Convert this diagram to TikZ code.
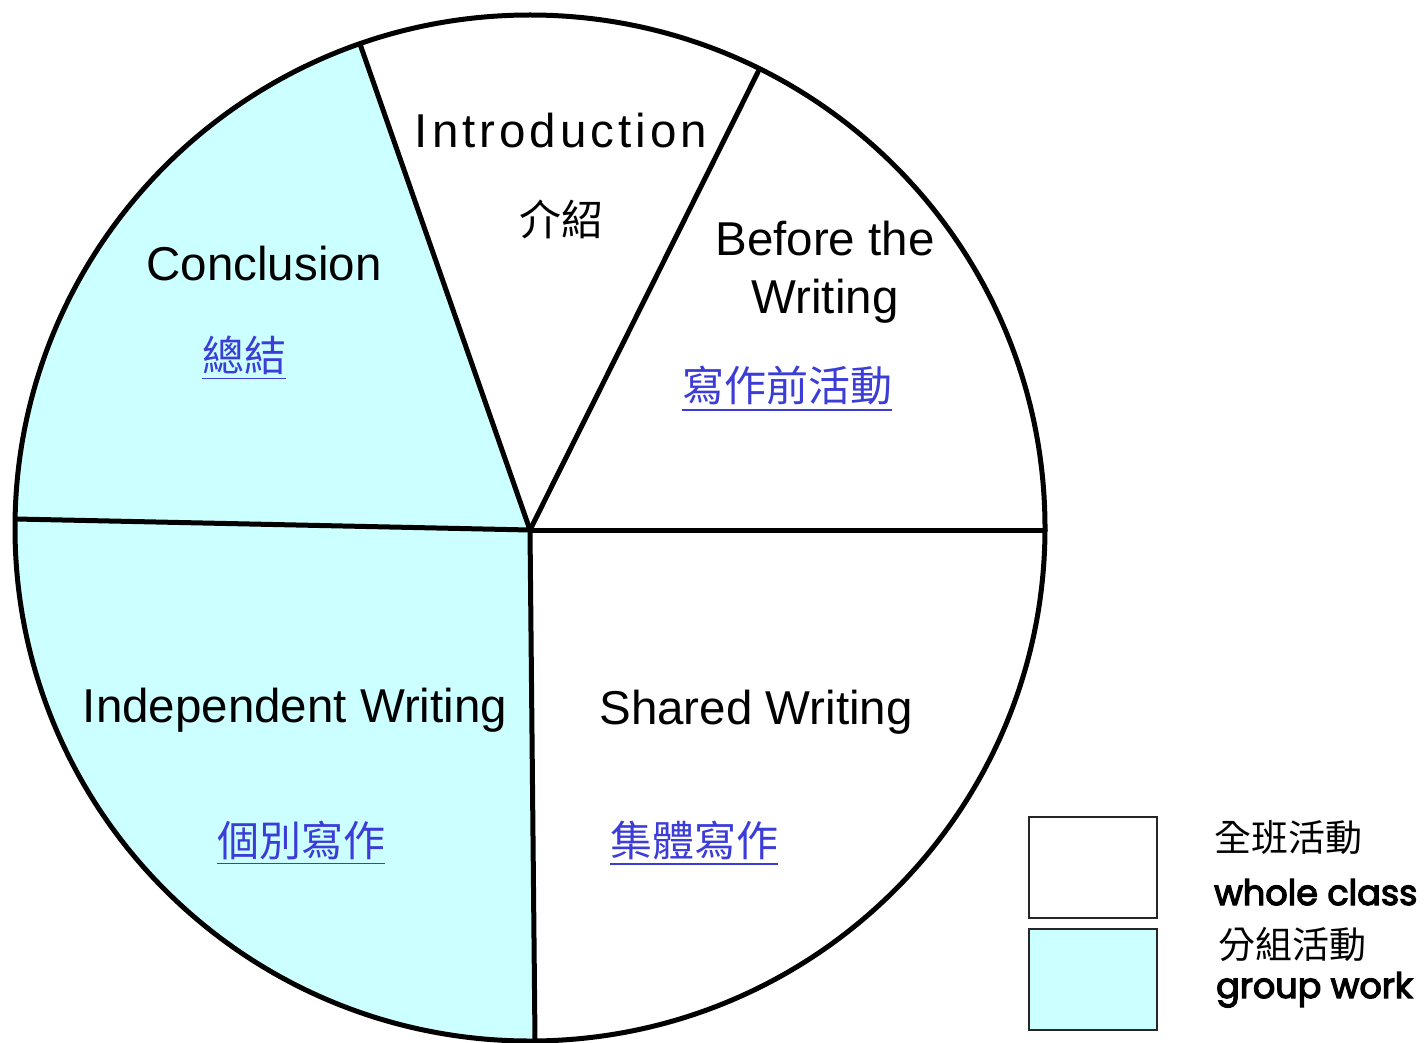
\documentclass[tikz,border=0pt]{standalone}
\usepackage{fontspec}
\setmainfont{Liberation Sans}
\newfontfamily\cjk{Noto Sans CJK TC}
\newfontfamily\legendfont{Poppins}[FakeBold=3.5]
\definecolor{grp}{RGB}{204,255,255}
\definecolor{linkblue}{RGB}{60,60,215}
\begin{document}
\begin{tikzpicture}[x=1pt,y=-1pt,
  lbl/.style={inner sep=0pt,font=\fontsize{47.5}{50}\selectfont},
  zh/.style={inner sep=0pt,font=\cjk\fontsize{42}{46}\selectfont},
  zhlink/.style={zh,text=linkblue},
  uline/.style={draw=linkblue,line width=1.6pt},
  spoke/.style={line width=5pt,line cap=round},
  legbox/.style={draw=black!85,line width=1.6pt},
  legzh/.style={inner sep=0pt,font=\cjk\fontsize{37}{40}\selectfont,anchor=west},
  legen/.style={inner sep=0pt,font=\legendfont\fontsize{35}{37}\selectfont,anchor=base west}]
\useasboundingbox (0,0) rectangle (1426,1043);
% geometry
\coordinate (C) at (530,530);
\coordinate (p1) at (360,44);
\coordinate (p2) at (758,72);
\coordinate (p3) at (1045,530);
\coordinate (p4) at (535,1041);
\coordinate (p5) at (16,519);
% group sectors fill
\begin{scope}
  \clip (530,528) ellipse [x radius=515, y radius=513];
  \fill[grp] (C) -- (327,-50) -- (-50,-50) -- (-50,1100) -- (537,1100) -- cycle;
\end{scope}
\draw[line width=5pt] (530,528) ellipse [x radius=515, y radius=513];
\draw[spoke] (C) -- (p1);
\draw[spoke] (C) -- (p2);
\draw[spoke] (C) -- (p3);
\draw[spoke] (C) -- (p4);
\draw[spoke] (C) -- (p5);
% labels
\node[lbl,anchor=base] (intro) at (561,148) {I\kern4pt n\kern4pt t\kern4pt r\kern4pt o\kern4pt d\kern4pt u\kern4pt c\kern4pt t\kern4pt i\kern4pt o\kern4pt n};
\node[zh] (introzh) at (561,219) {介紹};
\node[lbl,anchor=base] (concl) at (264,280) {Conclusion};
\node[zhlink] (conclzh) at (244,355) {總結};
\draw[uline] ([yshift=-4pt]conclzh.south west) -- ([yshift=-4pt]conclzh.south east);
\node[lbl,anchor=base] (before1) at (825,255) {Before the};
\node[lbl,anchor=base] (before2) at (825,313) {Writing};
\node[zhlink] (beforezh) at (787,386) {寫作前活動};
\draw[uline] ([yshift=-4pt]beforezh.south west) -- ([yshift=-4pt]beforezh.south east);
\node[lbl,anchor=base] (indep) at (295,722) {Independent Writing};
\node[zhlink] (indepzh) at (301,840) {個別寫作};
\draw[uline] ([yshift=-4pt]indepzh.south west) -- ([yshift=-4pt]indepzh.south east);
\node[lbl,anchor=base] (shared) at (756,724) {Shared Writing};
\node[zhlink] (sharedzh) at (694,840) {集體寫作};
\draw[uline] ([yshift=-4pt]sharedzh.south west) -- ([yshift=-4pt]sharedzh.south east);
% legend
\draw[legbox,fill=white] (1029,817) rectangle (1157,918);
\draw[legbox,fill=grp] (1029,929) rectangle (1157,1030);
\node[legzh] (lz1) at (1214,838) {全班活動};
\node[legen] (le1) at (1214,905) {whole class};
\node[legzh] (lz2) at (1218,944) {分組活動};
\node[legen] (le2) at (1216,998) {group work};
\end{tikzpicture}
\end{document}
